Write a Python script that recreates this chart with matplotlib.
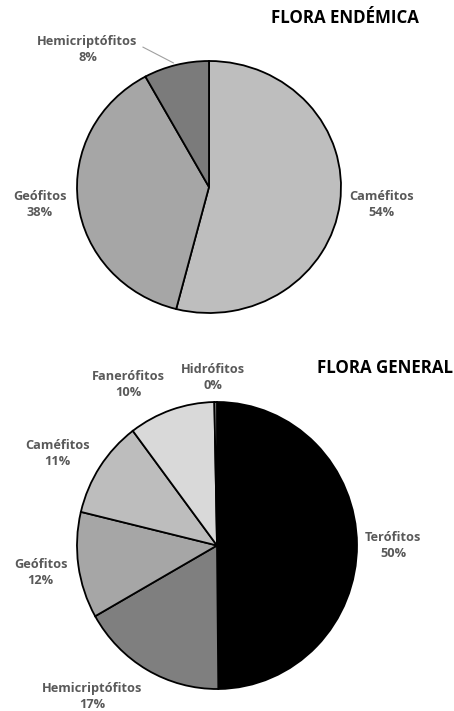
import matplotlib
matplotlib.use("Agg")
import matplotlib.pyplot as plt

# ---- data ----
endemic_labels = ["Caméfitos", "Geófitos", "Hemicriptófitos"]
endemic_values = [54, 38, 8]
endemic_colors = ["#bebebe", "#a6a6a6", "#7b7b7b"]

general_labels = ["Terófitos", "Hemicriptófitos", "Geófitos", "Caméfitos", "Fanerófitos", "Hidrófitos"]
general_values = [50, 17, 12, 11, 10, 0.3]
general_colors = ["#000000", "#7f7f7f", "#a6a6a6", "#bdbdbd", "#d9d9d9", "#a0a0a0"]

titles = ["FLORA ENDÉMICA", "FLORA GENERAL"]

# ---- layout (label positions in axes data units) ----
endemic_label_pos = [(1.31, -0.14), (-1.28, -0.14), (-0.92, 1.09)]
general_label_pos = [(1.26, 0.0), (-0.89, -1.05), (-1.26, -0.19), (-1.14, 0.64), (-0.63, 1.12), (-0.03, 1.17)]

W, H = 454, 711
fig = plt.figure(figsize=(W / 100, H / 100), dpi=100)
FONT = "Open Sans"
TXT = "#595959"


def draw(rect, labels, values, colors, label_pos):
    ax = fig.add_axes(rect)
    wedges, _ = ax.pie(values, colors=colors, startangle=90, counterclock=False,
                       wedgeprops=dict(edgecolor="black", linewidth=1.3))
    for w in wedges:
        w.set_clip_on(False)
    ax.set_aspect("auto")
    ax.set_xlim(-1, 1)
    ax.set_ylim(-1, 1)
    ax.axis("off")
    total = sum(values)
    for lab, v, (x, y) in zip(labels, values, label_pos):
        ax.text(x, y, f"{lab}\n{round(100 * v / total):d}%", ha="center", va="center",
                fontsize=9.2, fontweight="bold", color=TXT, family=FONT,
                linespacing=1.3)
    return ax


ax1 = draw([77 / W, (H - 313) / H, 264 / W, 252 / H], endemic_labels, endemic_values,
           endemic_colors, endemic_label_pos)
ax1.plot([-0.50, -0.27], [1.11, 0.985], color="#a0a0a0", lw=0.8, clip_on=False)

ax2 = draw([77 / W, (H - 689) / H, 280 / W, 287 / H], general_labels, general_values,
           general_colors, general_label_pos)

fig.text(345 / W, 1 - 18 / H, titles[0], ha="center", va="center", fontsize=12.2,
         fontweight="bold", family=FONT, color="black")
fig.text(385 / W, 1 - 368 / H, titles[1], ha="center", va="center", fontsize=12.2,
         fontweight="bold", family=FONT, color="black")

fig.savefig("out.png", dpi=100, facecolor="white")
